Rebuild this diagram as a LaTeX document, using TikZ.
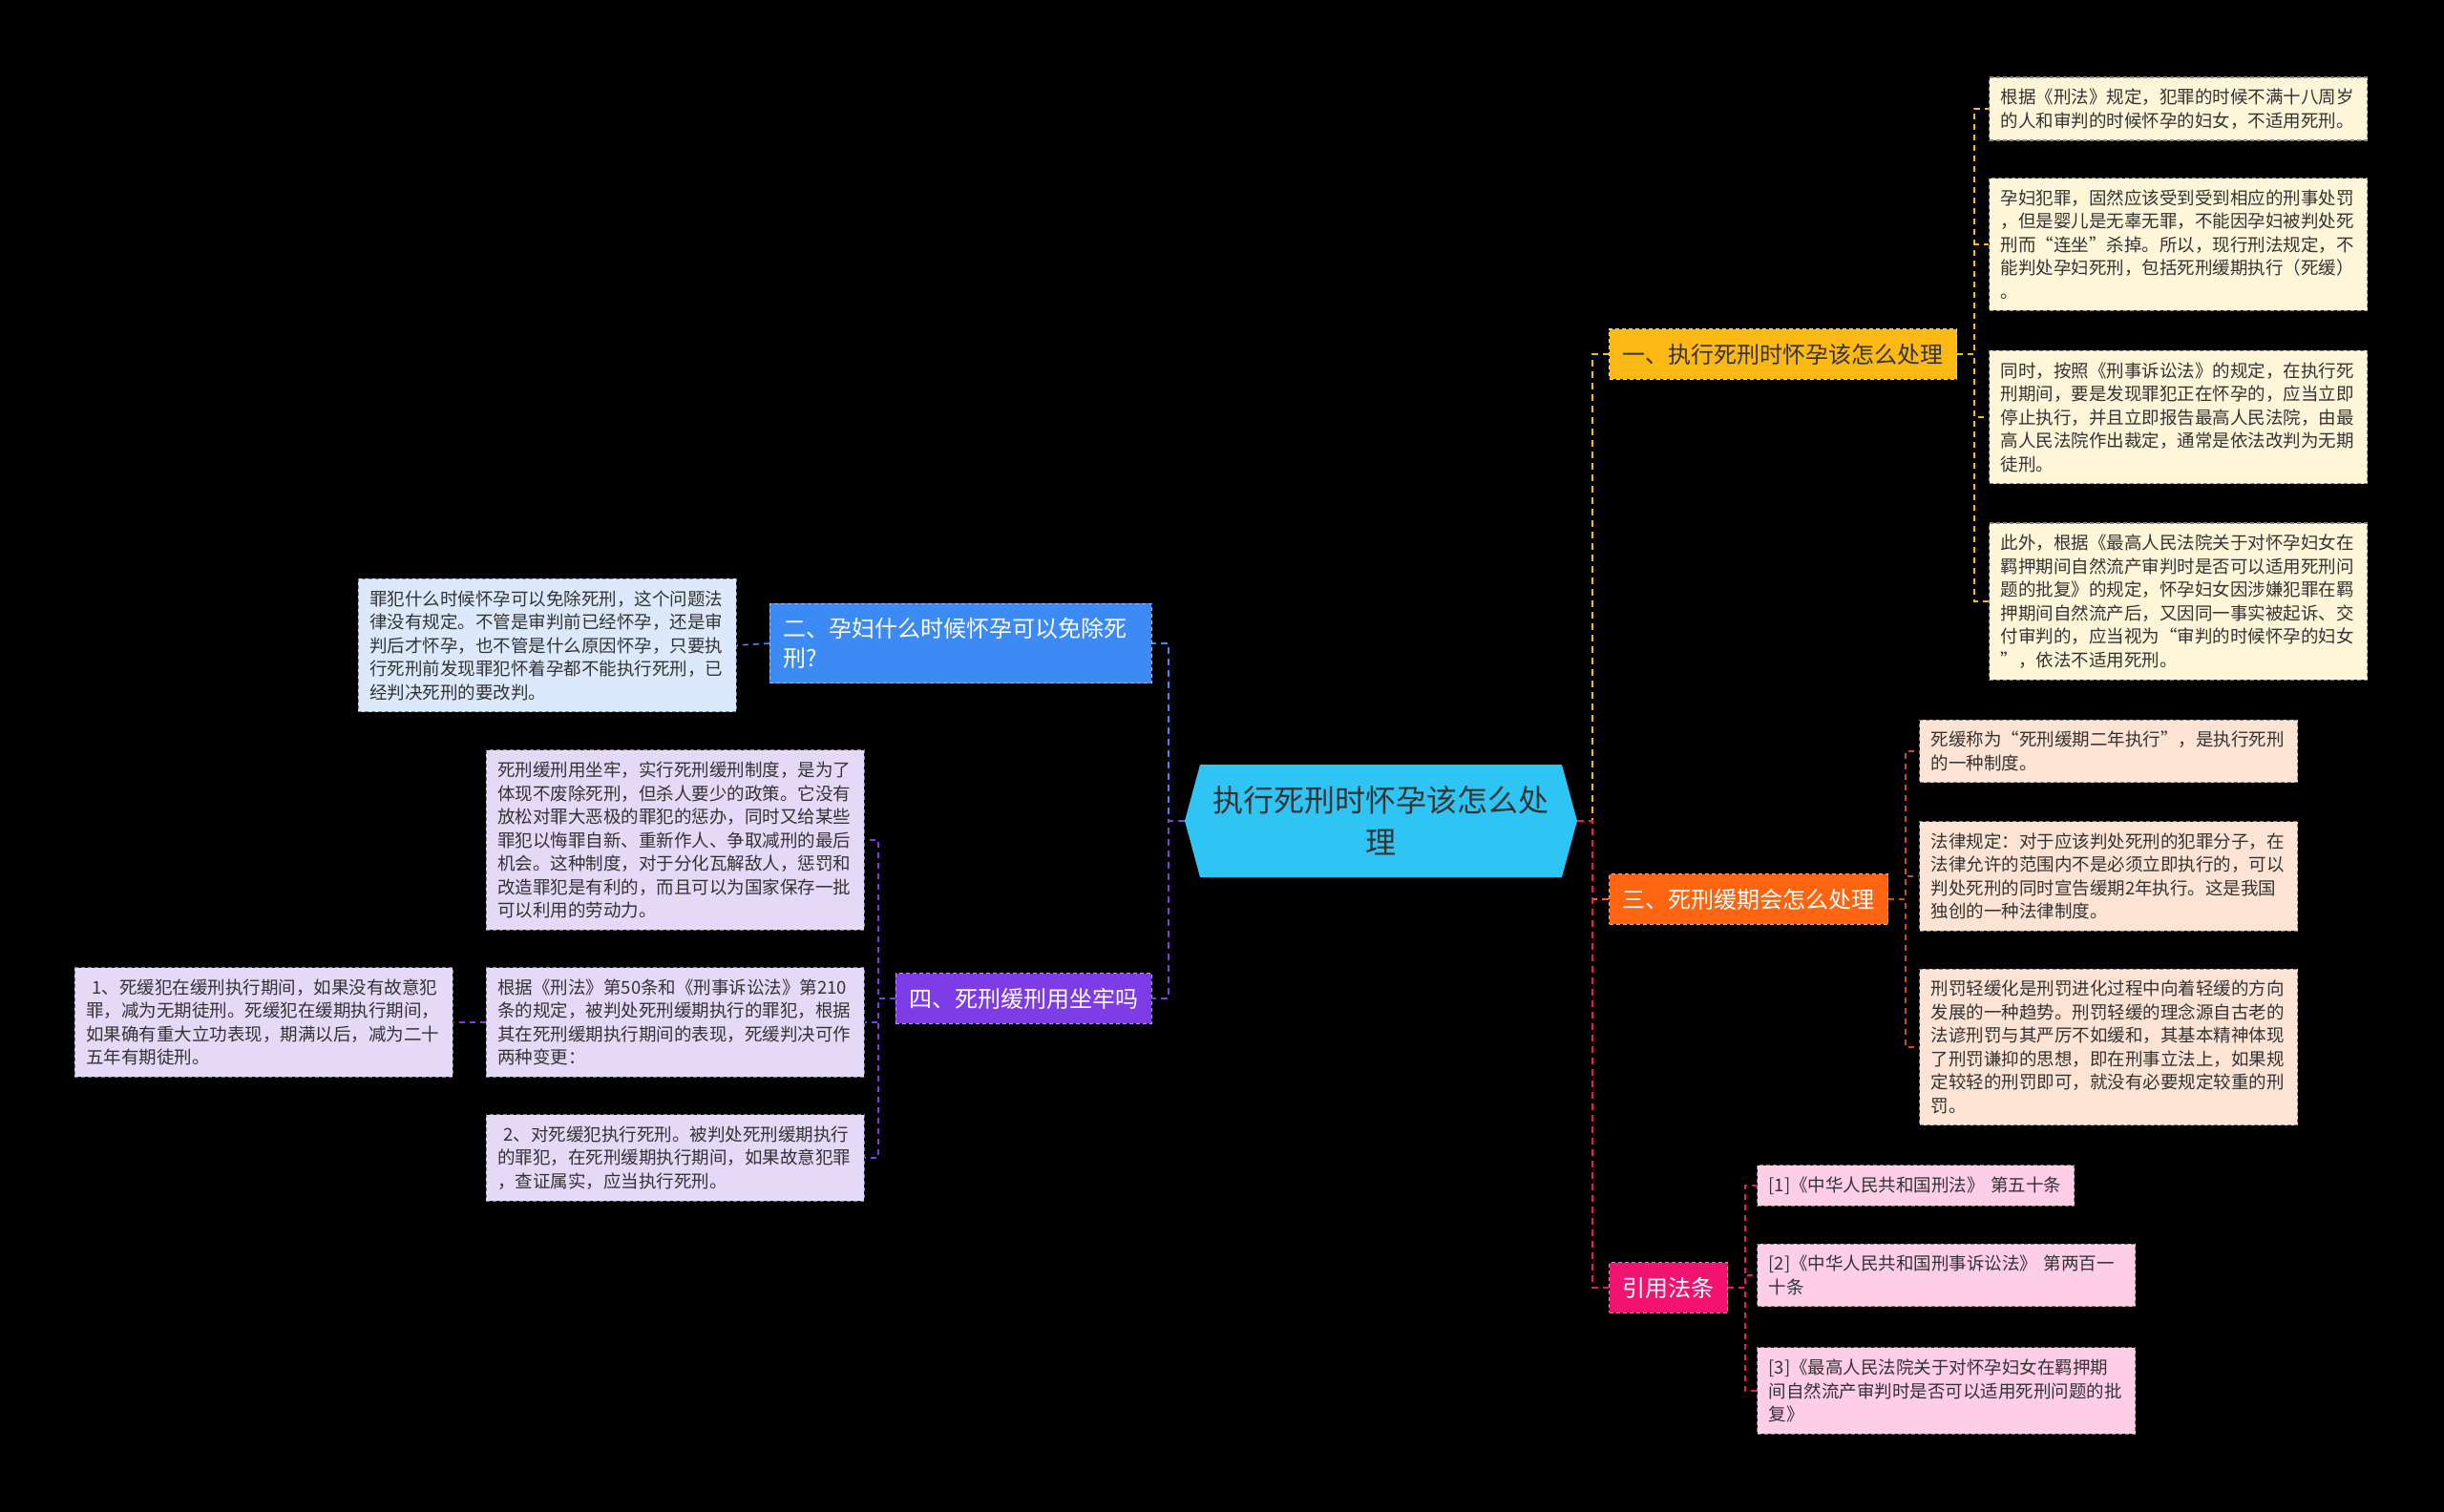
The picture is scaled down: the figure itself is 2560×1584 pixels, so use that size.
\documentclass[tikz,border=0pt]{standalone}
\usepackage{fontspec}
\setmainfont{Noto Sans CJK SC}
\usepackage{tikz}
\usetikzlibrary{positioning,calc,backgrounds}
\definecolor{night}{HTML}{000000}
\definecolor{sky}{HTML}{2EC5F5}
\definecolor{amber}{HTML}{FDB913}
\definecolor{flame}{HTML}{FF6510}
\definecolor{berry}{HTML}{F21370}
\definecolor{azure}{HTML}{3C8AF4}
\definecolor{grape}{HTML}{7E3CE6}
\definecolor{cream}{HTML}{FFF5D8}
\definecolor{peach}{HTML}{FDE3D3}
\definecolor{blush}{HTML}{FECDE6}
\definecolor{mist}{HTML}{DCE9FC}
\definecolor{lilac}{HTML}{E5D9F8}
\definecolor{ink}{HTML}{333333}

\begin{document}
\begin{tikzpicture}[x=1pt,y=-1pt,
  leaf/.style={fill=#1,draw=#1!55!black,dash pattern=on 4pt off 3pt,line width=1.2pt,
    text=ink,font=\fontsize{18.5pt}{24.5pt}\selectfont,align=left,text width=372pt,
    inner xsep=12pt,inner ysep=12pt},
  branch/.style={fill=#1,draw=#1!55!white,dash pattern=on 4pt off 3pt,line width=1.2pt,
    text=white,font=\fontsize{24pt}{31pt}\selectfont,align=left,inner xsep=14pt,inner ysep=15pt},
  link/.style={draw=#1,line width=2.4pt,dash pattern=on 7pt off 5pt},
  twig/.style={draw=#1,line width=1.6pt,dash pattern=on 6pt off 5pt}]
  \begin{scope}[on background layer]
    \fill[night] (0,0) rectangle (2560,1584);
  \end{scope}

  % centre
  \fill[sky] (1257,801) -- (1636,801) -- (1652,860) -- (1636,919) -- (1257,919) -- (1241,860) -- cycle;
  \node[text=ink,font=\fontsize{32pt}{44pt}\selectfont,align=center,text width=356pt] (ctr) at (1446,860)
    {执行死刑时怀孕该怎么处\\理};
  \coordinate (ctrR) at (1652,860);
  \coordinate (ctrL) at (1241,860);

  % right side
  \node[branch=amber,text=ink,anchor=west] (b1) at (1685,371) {一、执行死刑时怀孕该怎么处理};
  \node[branch=flame,anchor=west] (b3) at (1685,942) {三、死刑缓期会怎么处理};
  \node[branch=berry,anchor=west] (cite) at (1685,1349) {引用法条};

  \node[leaf=cream,anchor=west] (l1a) at (2083,114) {根据《刑法》规定，犯罪的时候不满十八周岁\\的人和审判的时候怀孕的妇女，不适用死刑。};
  \node[leaf=cream,anchor=west] (l1b) at (2083,256) {孕妇犯罪，固然应该受到受到相应的刑事处罚\\，但是婴儿是无辜无罪，不能因孕妇被判处死\\刑而“连坐”杀掉。所以，现行刑法规定，不\\能判处孕妇死刑，包括死刑缓期执行（死缓）\\。};
  \node[leaf=cream,anchor=west] (l1c) at (2083,437) {同时，按照《刑事诉讼法》的规定，在执行死\\刑期间，要是发现罪犯正在怀孕的，应当立即\\停止执行，并且立即报告最高人民法院，由最\\高人民法院作出裁定，通常是依法改判为无期\\徒刑。};
  \node[leaf=cream,anchor=west] (l1d) at (2083,630) {此外，根据《最高人民法院关于对怀孕妇女在\\羁押期间自然流产审判时是否可以适用死刑问\\题的批复》的规定，怀孕妇女因涉嫌犯罪在羁\\押期间自然流产后，又因同一事实被起诉、交\\付审判的，应当视为“审判的时候怀孕的妇女\\”，依法不适用死刑。};

  \node[leaf=peach,anchor=west] (l3a) at (2010,787) {死缓称为“死刑缓期二年执行”，是执行死刑\\的一种制度。};
  \node[leaf=peach,anchor=west] (l3b) at (2010,918) {法律规定：对于应该判处死刑的犯罪分子，在\\法律允许的范围内不是必须立即执行的，可以\\判处死刑的同时宣告缓期2年执行。这是我国\\独创的一种法律制度。};
  \node[leaf=peach,anchor=west] (l3c) at (2010,1097) {刑罚轻缓化是刑罚进化过程中向着轻缓的方向\\发展的一种趋势。刑罚轻缓的理念源自古老的\\法谚刑罚与其严厉不如缓和，其基本精神体现\\了刑罚谦抑的思想，即在刑事立法上，如果规\\定较轻的刑罚即可，就没有必要规定较重的刑\\罚。};

  \node[leaf=blush,anchor=west,text width=308pt] (c1) at (1840,1242) {[1]《中华人民共和国刑法》 第五十条};
  \node[leaf=blush,anchor=west] (c2) at (1840,1336) {[2]《中华人民共和国刑事诉讼法》 第两百一\\十条};
  \node[leaf=blush,anchor=west] (c3) at (1840,1457) {[3]《最高人民法院关于对怀孕妇女在羁押期\\间自然流产审判时是否可以适用死刑问题的批\\复》};

  % left side
  \node[branch=azure,anchor=east,text width=372pt] (b2) at (1207,674) {二、孕妇什么时候怀孕可以免除死\\刑?};
  \node[branch=grape,anchor=east] (b4) at (1207,1046) {四、死刑缓刑用坐牢吗};

  \node[leaf=mist,anchor=east] (l2) at (772,676) {罪犯什么时候怀孕可以免除死刑，这个问题法\\律没有规定。不管是审判前已经怀孕，还是审\\判后才怀孕，也不管是什么原因怀孕，只要执\\行死刑前发现罪犯怀着孕都不能执行死刑，已\\经判决死刑的要改判。};

  \node[leaf=lilac,anchor=east] (l4a) at (906,880) {死刑缓刑用坐牢，实行死刑缓刑制度，是为了\\体现不废除死刑，但杀人要少的政策。它没有\\放松对罪大恶极的罪犯的惩办，同时又给某些\\罪犯以悔罪自新、重新作人、争取减刑的最后\\机会。这种制度，对于分化瓦解敌人，惩罚和\\改造罪犯是有利的，而且可以为国家保存一批\\可以利用的劳动力。};
  \node[leaf=lilac,anchor=east] (l4b) at (906,1071) {根据《刑法》第50条和《刑事诉讼法》第210\\条的规定，被判处死刑缓期执行的罪犯，根据\\其在死刑缓期执行期间的表现，死缓判决可作\\两种变更：};
  \node[leaf=lilac,anchor=east] (l4c) at (906,1213) {\hspace*{6pt}2、对死缓犯执行死刑。被判处死刑缓期执行\\的罪犯，在死刑缓期执行期间，如果故意犯罪\\，查证属实，应当执行死刑。};
  \node[leaf=lilac,anchor=east] (l4d) at (475,1071) {\hspace*{6pt}1、死缓犯在缓刑执行期间，如果没有故意犯\\罪，减为无期徒刑。死缓犯在缓期执行期间，\\如果确有重大立功表现，期满以后，减为二十\\五年有期徒刑。};

  % links
  \draw[link=amber] (ctrR) -- ++(16,0) |- (b1.west);
  \draw[link=flame] (ctrR) -- ++(16,0) |- (b3.west);
  \draw[link=berry] (ctrR) -- ++(16,0) |- (cite.west);
  \draw[link=azure] (ctrL) -- ++(-17,0) |- (b2.east);
  \draw[link=grape] (ctrL) -- ++(-17,0) |- (b4.east);

  \foreach \n in {a,b,c,d}{\draw[twig=amber] (b1.east) -- ++(18,0) |- (l1\n.west);}
  \foreach \n in {a,b,c}{\draw[twig=flame!80!black] (b3.east) -- ++(18,0) |- (l3\n.west);}
  \foreach \n in {1,2,3}{\draw[twig=berry] (cite.east) -- ++(18,0) |- (c\n.west);}
  \draw[twig=azure] (b2.west) -- (l2.east);
  \foreach \n in {a,b,c}{\draw[twig=grape] (b4.west) -- ++(-18,0) |- (l4\n.east);}
  \draw[twig=grape] (l4b.west) -- (l4d.east);
\end{tikzpicture}
\end{document}
